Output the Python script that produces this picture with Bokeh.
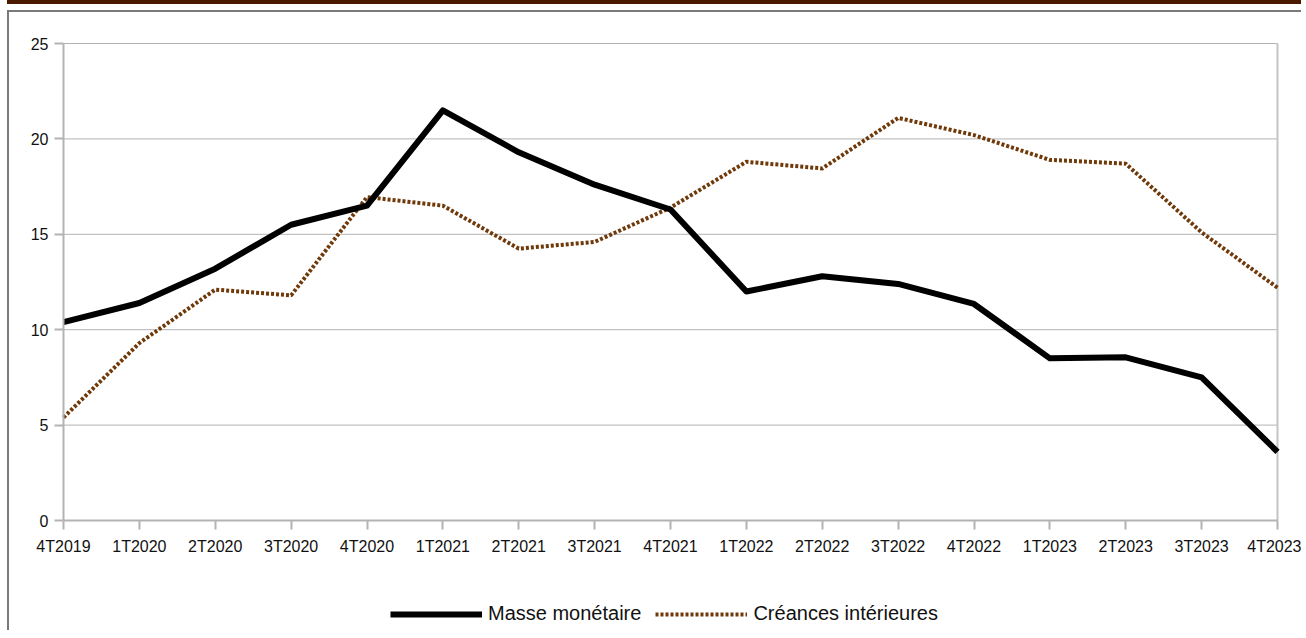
from bokeh.plotting import figure
from bokeh.models import ColumnDataSource, Range1d, FixedTicker, Legend, LegendItem
from bokeh.embed import file_html
from bokeh.resources import INLINE

quarters = ["4T2019", "1T2020", "2T2020", "3T2020", "4T2020", "1T2021", "2T2021",
            "3T2021", "4T2021", "1T2022", "2T2022", "3T2022", "4T2022", "1T2023",
            "2T2023", "3T2023", "4T2023"]
masse_monetaire = [10.4, 11.4, 13.2, 15.5, 16.5, 21.5, 19.3, 17.6, 16.3, 12.0,
                   12.8, 12.4, 11.35, 8.5, 8.55, 7.5, 3.6]
creances_interieures = [5.4, 9.3, 12.1, 11.8, 16.95, 16.5, 14.25, 14.6, 16.4, 18.8,
                        18.45, 21.1, 20.2, 18.9, 18.7, 15.1, 12.2]
y_ticks = [0, 5, 10, 15, 20, 25]

x = list(range(len(quarters)))
src = ColumnDataSource(dict(x=x, mm=masse_monetaire, ci=creances_interieures))

FONT = "Liberation Sans"
BROWN = "#70390a"
GRID = "#b3b3b3"

n = len(quarters) - 1
YMAX = y_ticks[-1]
PX_X = 1214 / n          # pixels per quarter
PX_Y = 477 / YMAX        # pixels per unit

W, H = 1294, 620
LEFT_PX, TOP_PX = 54, 31   # distance from figure edge to x=0 / y=YMAX
x_lo = -LEFT_PX / PX_X
x_hi = x_lo + W / PX_X
y_hi = YMAX + TOP_PX / PX_Y
y_lo = y_hi - H / PX_Y

p = figure(width=W, height=H, output_backend="svg", toolbar_location=None,
           x_range=Range1d(x_lo, x_hi), y_range=Range1d(y_lo, y_hi),
           min_border=0, min_border_left=0, min_border_right=0,
           min_border_top=0, min_border_bottom=0)
p.styles = {"margin-top": "10px", "margin-left": "7px",
            "border-top": "2px solid #7a7a7a", "border-left": "2px solid #7a7a7a",
            "box-shadow": "0 -6px 0 0 #ffffff, 0 -11px 0 0 #4a1a00"}

p.background_fill_color = "white"
p.border_fill_color = "white"
p.outline_line_color = None
p.xgrid.visible = False
p.ygrid.visible = False

for ax in (p.xaxis[0], p.yaxis[0]):
    ax.fixed_location = 0
    ax.axis_line_color = GRID
    ax.axis_line_width = 2
    ax.major_tick_line_color = GRID
    ax.major_tick_line_width = 2
    ax.minor_tick_line_color = None
    ax.major_label_text_font = FONT
    ax.major_label_text_font_size = "16px"
    ax.major_label_text_color = "#111111"

p.xaxis.bounds = (0, n)
p.xaxis.ticker = FixedTicker(ticks=x)
p.xaxis.major_label_overrides = {i: q for i, q in enumerate(quarters)}
p.xaxis.major_tick_out = 9
p.xaxis.major_tick_in = 0
p.xaxis.major_label_standoff = 8

p.yaxis.bounds = (0, YMAX)
p.yaxis.ticker = FixedTicker(ticks=y_ticks)
p.yaxis.major_tick_out = 9
p.yaxis.major_tick_in = 0
p.yaxis.major_label_standoff = 6

# horizontal grid lines limited to the plot area, and its right edge
grid_y = y_ticks[1:]
p.segment(x0=[0] * len(grid_y), x1=[n] * len(grid_y), y0=grid_y, y1=grid_y,
          line_color=GRID, line_width=1)
p.segment(x0=[n], x1=[n], y0=[0], y1=[YMAX], line_color="#c4c4c4", line_width=2)

r_ci = p.line("x", "ci", source=src, line_color=BROWN, line_width=4,
              line_dash="3 2", line_cap="butt")
r_mm = p.line("x", "mm", source=src, line_color="black", line_width=6,
              line_join="round")

leg = Legend(items=[LegendItem(label="Masse monétaire", renderers=[r_mm]),
                    LegendItem(label="Créances intérieures", renderers=[r_ci])],
             orientation="horizontal", location=(381, 7),
             glyph_width=92, glyph_height=20, label_standoff=6, spacing=14,
             padding=0, margin=0, border_line_color=None,
             background_fill_alpha=0, label_text_font=FONT,
             label_text_font_size="20px", label_text_color="#111111")
p.add_layout(leg, "center")

open("out.html", "w").write(file_html(p, INLINE))
